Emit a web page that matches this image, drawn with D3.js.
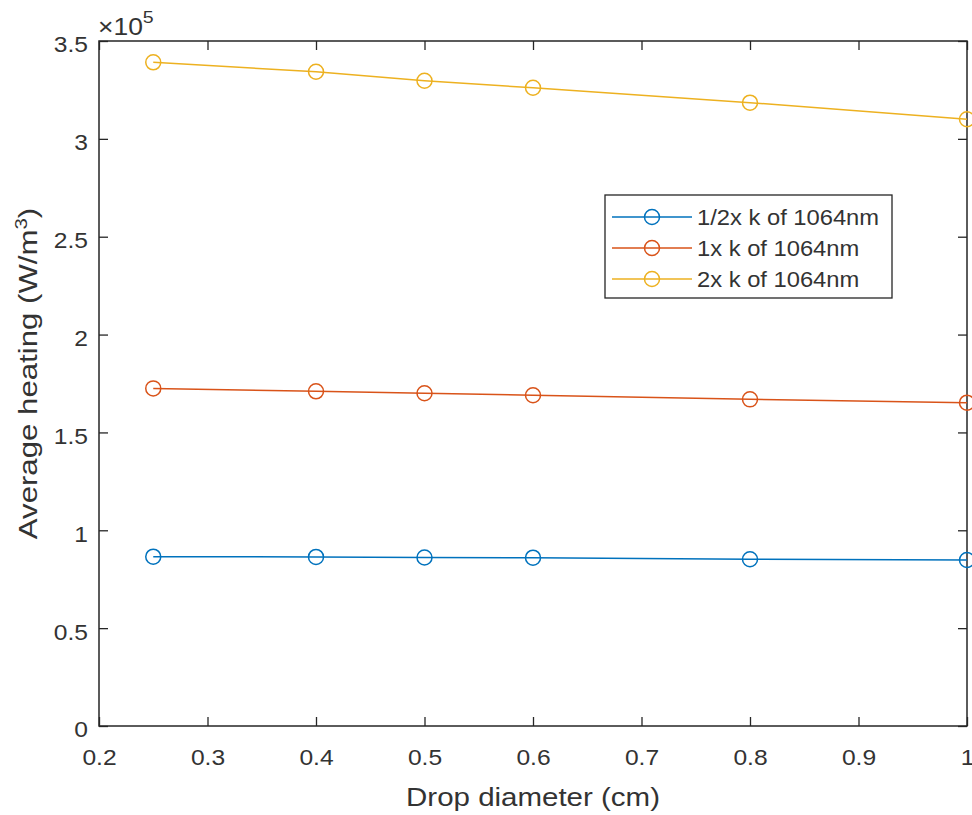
<!DOCTYPE html>
<html>
<head>
<meta charset="utf-8">
<script src="https://cdn.jsdelivr.net/npm/d3@7"></script>
<style>
  html, body { margin: 0; padding: 0; background: #fff; }
  svg { display: block; }
  text { font-family: "Liberation Sans", Arial, Helvetica, sans-serif; fill: #333; }
</style>
</head>
<body>
<svg id="chart" width="972" height="815"></svg>
<script>
// Drop diameters (cm) and average heating (W/m^3) for three absorption levels
const diameters = [0.25, 0.4, 0.5, 0.6, 0.8, 1.0];
const halfK = [86500, 86400, 86100, 86000, 85200, 84800];
const oneK = [172500, 171000, 170000, 169000, 166900, 165200];
const twoK = [339100, 334300, 329700, 326100, 318500, 310000];

const seriesNames = ["1/2x k of 1064nm", "1x k of 1064nm", "2x k of 1064nm"];
const seriesColors = ["#0072BD", "#D95319", "#EDB120"];

const xTicks = [0.2, 0.3, 0.4, 0.5, 0.6, 0.7, 0.8, 0.9, 1];
const yTicks = [0, 50000, 100000, 150000, 200000, 250000, 300000, 350000];
const xTickLabels = ["0.2", "0.3", "0.4", "0.5", "0.6", "0.7", "0.8", "0.9", "1"];
const yTickLabels = ["0", "0.5", "1", "1.5", "2", "2.5", "3", "3.5"];

const series = [halfK, oneK, twoK];

const svg = d3.select("#chart");
const plotL = 99, plotR = 967, plotT = 41, plotB = 726;
const stretch = 1.12;   // glyphs are drawn slightly widened
const fontSize = 22;
const axisColor = "#262626";
const textColor = "#333";

const x = d3.scaleLinear().domain([0.2, 1]).range([plotL, plotR]);
const y = d3.scaleLinear().domain([0, 350000]).range([plotB, plotT]);

// Axes box
svg.append("rect")
  .attr("x", plotL).attr("y", plotT)
  .attr("width", plotR - plotL).attr("height", plotB - plotT)
  .attr("fill", "none").attr("stroke", axisColor).attr("stroke-width", 1.5);

function styleAxis(g) {
  g.select(".domain").remove();
  g.selectAll(".tick line").attr("stroke", axisColor).attr("stroke-width", 1.3);
  g.selectAll(".tick text").attr("font-size", fontSize).attr("fill", textColor)
    .style("font-family", '"Liberation Sans", Arial, sans-serif');
}

// Bottom axis (ticks pointing inward)
const gx = svg.append("g").attr("transform", `translate(0,${plotB})`)
  .call(d3.axisBottom(x).tickValues(xTicks)
    .tickFormat((d, i) => xTickLabels[i]).tickSize(-9).tickPadding(0))
  .call(styleAxis);
gx.selectAll(".tick text")
  .attr("y", 0).attr("dy", 0)
  .attr("transform", `translate(0,39) scale(${stretch},1)`);

// Top axis ticks
svg.append("g").attr("transform", `translate(0,${plotT})`)
  .call(d3.axisTop(x).tickValues(xTicks).tickFormat("").tickSize(-9))
  .call(styleAxis);

// Left axis
const gy = svg.append("g").attr("transform", `translate(${plotL},0)`)
  .call(d3.axisLeft(y).tickValues(yTicks)
    .tickFormat((d, i) => yTickLabels[i]).tickSize(-9).tickPadding(0))
  .call(styleAxis);
gy.selectAll(".tick text")
  .attr("x", 0).attr("dy", "0.36em")
  .attr("transform", `translate(-11,3) scale(${stretch},1)`);

// Right axis ticks
svg.append("g").attr("transform", `translate(${plotR},0)`)
  .call(d3.axisRight(y).tickValues(yTicks).tickFormat("").tickSize(-9))
  .call(styleAxis);

// Exponent label
const expo = svg.append("text")
  .attr("transform", `translate(98,35) scale(1.15,1)`)
  .attr("font-size", 23);
expo.append("tspan").text("\u00d710");
expo.append("tspan").attr("font-size", 17).attr("dy", -12).text("5");

// Axis titles
svg.append("text")
  .attr("transform", `translate(${(plotL + plotR) / 2},806) scale(1.18,1)`)
  .attr("text-anchor", "middle").attr("font-size", 25)
  .text("Drop diameter (cm)");

const yl = svg.append("text")
  .attr("transform", `translate(37,${(plotT + plotB) / 2 - 10}) rotate(-90) scale(1.2,1)`)
  .attr("text-anchor", "middle").attr("font-size", 26);
yl.append("tspan").text("Average heating (W/m");
yl.append("tspan").attr("font-size", 17).attr("dy", -10).text("3");
yl.append("tspan").attr("dy", 10).text(")");

// Series lines and circle markers
const line = d3.line().x((d, i) => x(diameters[i])).y(d => y(d));
series.forEach((vals, s) => {
  svg.append("path").datum(vals)
    .attr("d", line).attr("fill", "none")
    .attr("stroke", seriesColors[s]).attr("stroke-width", 1.5);
  svg.append("g").selectAll("circle").data(vals).join("circle")
    .attr("cx", (d, i) => x(diameters[i])).attr("cy", d => y(d))
    .attr("r", 7.5).attr("fill", "none")
    .attr("stroke", seriesColors[s]).attr("stroke-width", 1.5);
});

// Legend
const lg = svg.append("g");
lg.append("rect").attr("x", 605).attr("y", 195).attr("width", 287).attr("height", 103)
  .attr("fill", "#fff").attr("stroke", axisColor).attr("stroke-width", 1.3);
seriesNames.forEach((name, s) => {
  const ry = 217 + s * 31;
  lg.append("line").attr("x1", 612).attr("x2", 692).attr("y1", ry).attr("y2", ry)
    .attr("stroke", seriesColors[s]).attr("stroke-width", 1.5);
  lg.append("circle").attr("cx", 652).attr("cy", ry).attr("r", 7.5)
    .attr("fill", "none").attr("stroke", seriesColors[s]).attr("stroke-width", 1.5);
  lg.append("text")
    .attr("transform", `translate(697,${ry + 8}) scale(1.08,1)`)
    .attr("font-size", 22).text(name);
});
</script>
</body>
</html>
